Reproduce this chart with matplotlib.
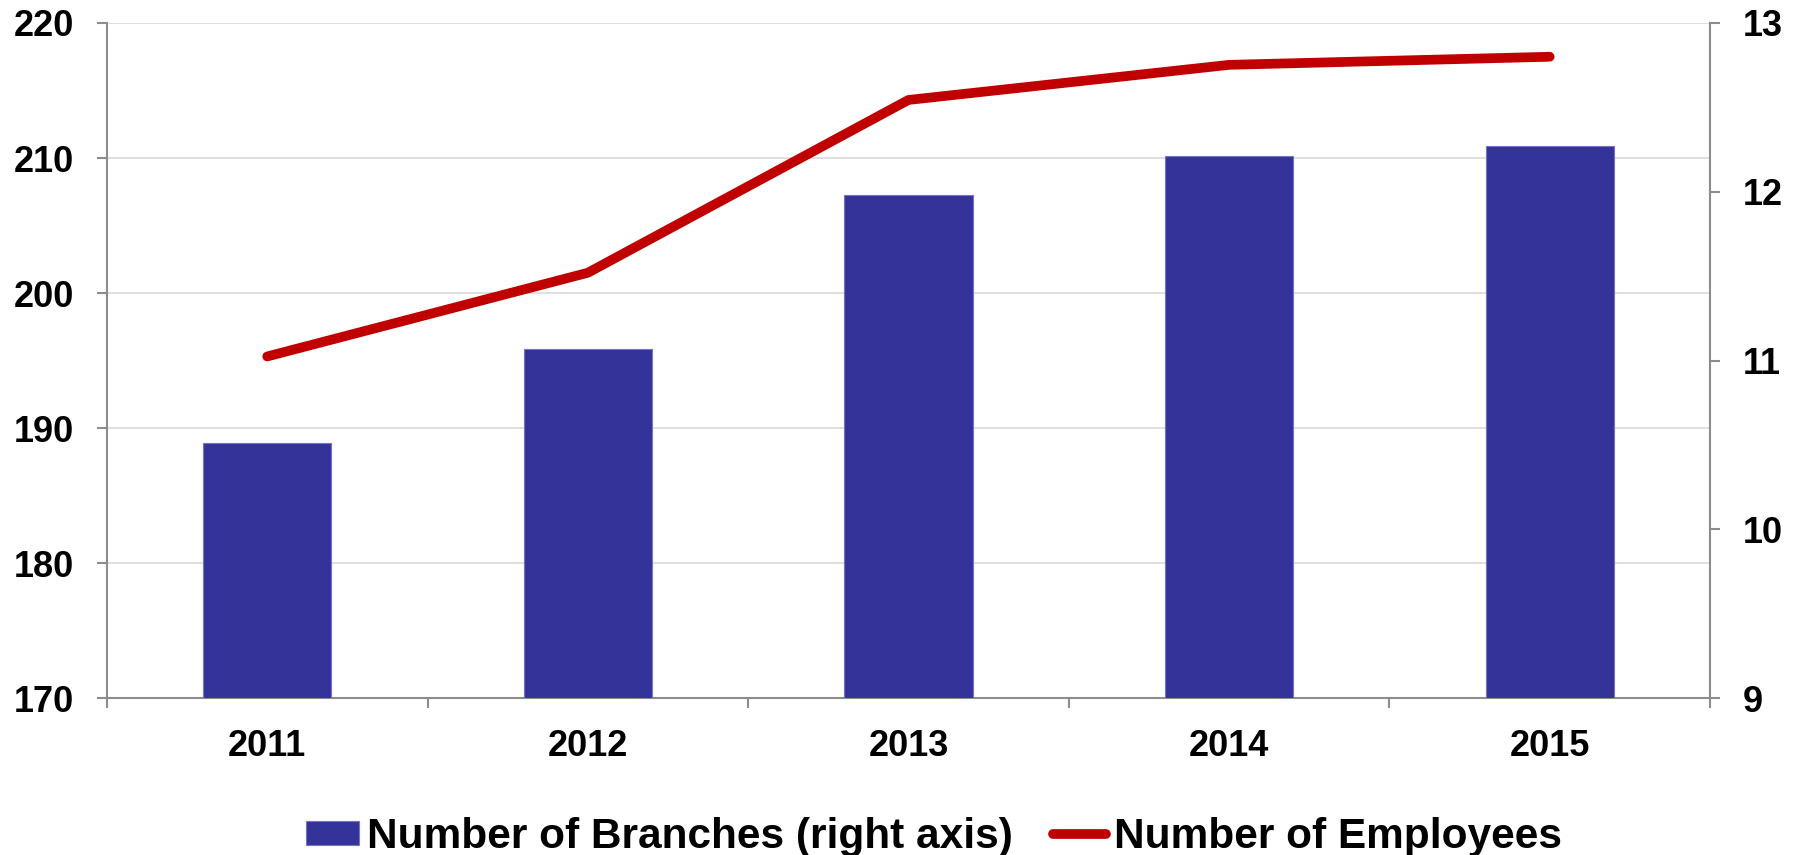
import matplotlib
matplotlib.use("Agg")

import matplotlib.pyplot as plt
import numpy as np
from matplotlib.patches import Patch
from matplotlib.lines import Line2D

years = ["2011", "2012", "2013", "2014", "2015"]
branches = [10.51, 11.07, 11.98, 12.21, 12.27]      # right axis
employees = [195.3, 201.5, 214.3, 216.9, 217.5]     # left axis

left_ticks = [170, 180, 190, 200, 210, 220]
right_ticks = [9, 10, 11, 12, 13]

BAR_COLOR = "#333399"
LINE_COLOR = "#c00000"
AXIS_GRAY = "#8c8c8c"
GRID_GRAY = "#d9d9d9"

plt.rcParams["font.family"] = ["Liberation Sans", "DejaVu Sans"]
plt.rcParams["font.weight"] = "bold"

fig = plt.figure(figsize=(18.03, 8.55), dpi=100)
ax = fig.add_axes([0.0593, 0.1836, 0.8891, 0.7895])
ax2 = ax.twinx()
x = np.arange(len(years))

# bars live on the right-hand axis
ax.bar(x, branches, width=0.4, color=BAR_COLOR, edgecolor="#7474c8",
       linewidth=0.8, zorder=3)
ax.set_xlim(-0.5, len(years) - 0.5)
ax.set_ylim(right_ticks[0], right_ticks[-1])
ax.yaxis.tick_right()
ax.set_yticks(right_ticks)
ax.tick_params(axis="y", direction="out", length=7.5, width=1.5,
               color=AXIS_GRAY, pad=16, labelsize=26)

# gridlines follow the left axis ticks, drawn behind the bars
lo, hi = left_ticks[0], left_ticks[-1]
for v in left_ticks[1:]:
    y = right_ticks[0] + (v - lo) / (hi - lo) * (right_ticks[-1] - right_ticks[0])
    ax.axhline(y, color=GRID_GRAY, lw=1.2, zorder=1)

# category separators as major ticks, year labels on minor ticks
ax.set_xticks(np.arange(-0.5, len(years), 1.0))
ax.set_xticklabels([])
ax.set_xticks(x, minor=True)
ax.set_xticklabels(years, minor=True)
ax.tick_params(axis="x", which="major", direction="out", length=7.5, width=1.5,
               color=AXIS_GRAY)
ax.tick_params(axis="x", which="minor", length=0, pad=22, labelsize=26)

for side in ["top", "left"]:
    ax.spines[side].set_visible(False)
for side in ["right", "bottom"]:
    ax.spines[side].set_color(AXIS_GRAY)
    ax.spines[side].set_linewidth(1.5)

# employees line on the left-hand axis
ax2.yaxis.tick_left()
ax2.plot(x, employees, color=LINE_COLOR, lw=7,
         solid_capstyle="round", solid_joinstyle="round", zorder=4)
ax2.set_ylim(lo, hi)
ax2.set_yticks(left_ticks)
ax2.tick_params(axis="y", direction="out", length=7.5, width=1.5,
                color=AXIS_GRAY, pad=16, labelsize=26)
for side in ["top", "right", "bottom"]:
    ax2.spines[side].set_visible(False)
ax2.spines["left"].set_color(AXIS_GRAY)
ax2.spines["left"].set_linewidth(1.5)

handles = [
    Patch(facecolor=BAR_COLOR, edgecolor="#7474c8", linewidth=0.8),
    Line2D([0], [0], color=LINE_COLOR, lw=7, solid_capstyle="round"),
]
labels = ["Number of Branches (right axis)", "Number of Employees"]
fig.legend(handles, labels, loc="center", bbox_to_anchor=(934 / 1803, 1 - 837 / 855),
           ncol=2, frameon=False, fontsize=30.5, handlelength=1.25,
           handleheight=0.5, handletextpad=0.19, columnspacing=0.96,
           borderaxespad=0, borderpad=0)

fig.savefig("out.png", dpi=100, facecolor="white")
